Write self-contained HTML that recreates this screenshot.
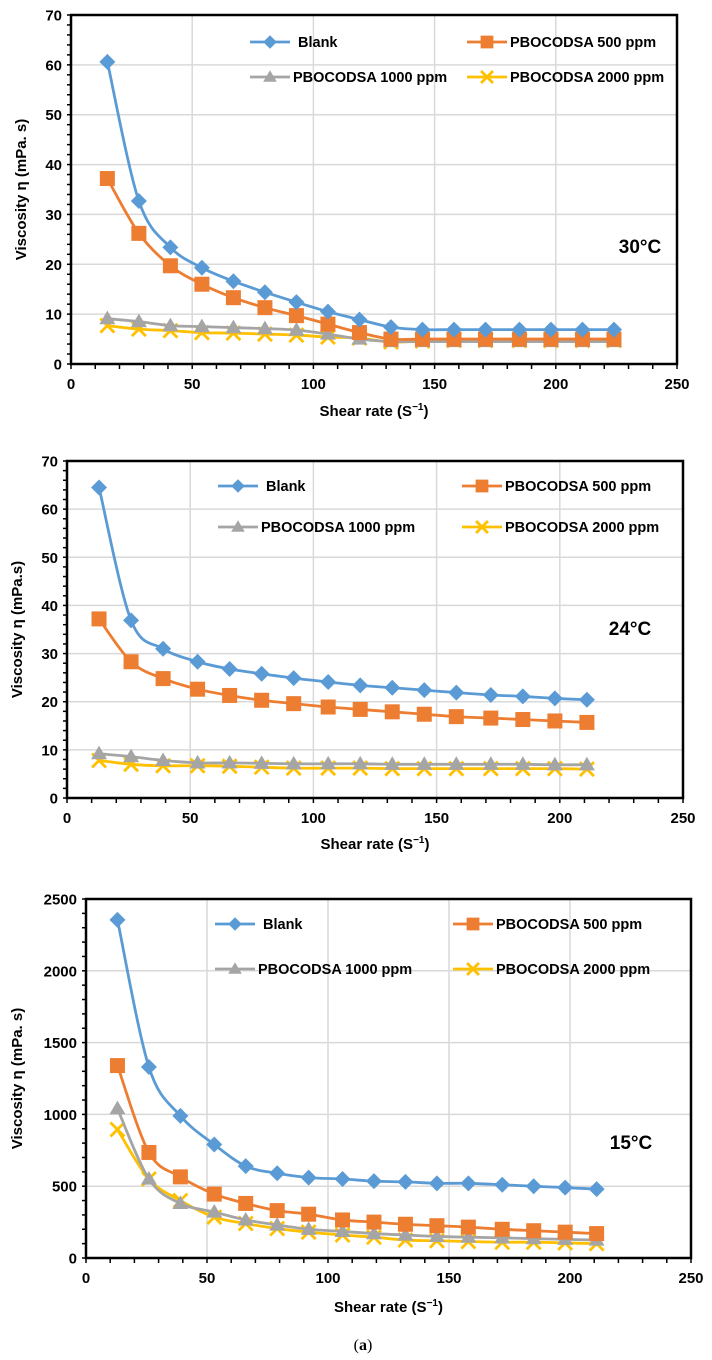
<!DOCTYPE html>
<html><head><meta charset="utf-8"><style>
html,body{margin:0;padding:0;background:#fff;}
svg{display:block;font-family:"Liberation Sans",sans-serif;font-weight:bold;}
</style></head><body>
<svg id="fig" width="712" height="1360" viewBox="0 0 712 1360" xmlns="http://www.w3.org/2000/svg"></svg>
<script>
const seriesNames = ["Blank","PBOCODSA 500 ppm","PBOCODSA 1000 ppm","PBOCODSA 2000 ppm"];
const shear30 = [15,28,41,54,67,80,93,106,119,132,145,158,171,185,198,211,224];
const blank30 = [60.6,32.7,23.4,19.3,16.6,14.4,12.4,10.5,8.9,7.4,6.9,6.9,6.9,6.9,6.9,6.9,6.9];
const p500_30 = [37.2,26.2,19.7,16,13.3,11.3,9.7,8,6.3,5,5,5,5,5,5,5,5];
const p1000_30 = [9.1,8.5,7.7,7.5,7.3,7.1,6.8,6,5,4.5,4.5,4.5,4.5,4.5,4.5,4.5,4.5];
const p2000_30 = [7.7,7,6.7,6.3,6.2,6,5.8,5.4,5.2,4.4,4.6,4.7,4.7,4.7,4.7,4.7,4.7];
const shear24 = [13,26,39,53,66,79,92,106,119,132,145,158,172,185,198,211];
const blank24 = [64.5,36.9,31,28.3,26.8,25.8,24.9,24.1,23.4,22.9,22.4,21.9,21.4,21.1,20.7,20.4];
const p500_24 = [37.2,28.3,24.8,22.6,21.3,20.3,19.6,18.9,18.4,17.9,17.4,16.9,16.6,16.3,16,15.7];
const p1000_24 = [9.2,8.6,7.8,7.3,7.3,7.2,7.1,7.1,7.1,7,7,7,7,7,6.9,6.9];
const p2000_24 = [7.8,7,6.7,6.7,6.6,6.4,6.2,6.2,6.2,6.1,6.1,6.1,6.1,6.1,6.1,6.0];
const shear15 = [13,26,39,53,66,79,92,106,119,132,145,158,172,185,198,211];
const blank15 = [2355,1330,990,790,640,590,560,550,535,530,520,520,510,500,490,480];
const p500_15 = [1340,735,565,445,380,330,305,265,250,235,225,215,200,190,180,170];
const p1000_15 = [1040,550,380,320,265,230,200,185,170,160,150,145,140,135,130,125];
const p2000_15 = [895,550,400,285,240,205,180,160,145,125,120,115,110,110,105,100];
const xTicks = [0,50,100,150,200,250];
const yTicks70 = [0,10,20,30,40,50,60,70];
const yTicks2500 = [0,500,1000,1500,2000,2500];

const NS="http://www.w3.org/2000/svg";
const svg=document.getElementById('fig');
const colors=["#5B9BD5","#ED7D31","#A5A5A5","#FFC000"];
function mk(tag,attrs,parent){const e=document.createElementNS(NS,tag);for(const k in attrs)e.setAttribute(k,attrs[k]);(parent||svg).appendChild(e);return e;}
function smooth(pts){let d="M"+pts[0][0]+","+pts[0][1];for(let i=0;i<pts.length-1;i++){const p0=pts[i-1]||pts[i],p1=pts[i],p2=pts[i+1],p3=pts[i+2]||p2;const t=0.5/3;
d+=" C"+(p1[0]+(p2[0]-p0[0])*t)+","+(p1[1]+(p2[1]-p0[1])*t)+" "+(p2[0]-(p3[0]-p1[0])*t)+","+(p2[1]-(p3[1]-p1[1])*t)+" "+p2[0]+","+p2[1];}return d;}
function marker(g,k,x,y,legend){const c=colors[k];let m;const f=legend?0.85:1;
if(k===0){const s=8*f;m=mk('polygon',{points:`${x},${y-s} ${x+s},${y} ${x},${y+s} ${x-s},${y}`,fill:c},g);}
else if(k===1){const s=7.5*f;m=mk('rect',{x:x-s,y:y-s,width:2*s,height:2*s,fill:c},g);}
else if(k===2){const s=8*f;m=mk('polygon',{points:`${x},${y-s} ${x+s},${y+s*0.7} ${x-s},${y+s*0.7}`,fill:c},g);}
else{const s=7*f;m=mk('path',{d:`M${x-s},${y-s}L${x+s},${y+s}M${x-s},${y+s}L${x+s},${y-s}`,stroke:c,'stroke-width':2.8,fill:'none'},g);}

}
function chart(cfg){
 const g=mk('g',{});
 
 
 const {L,R,T,B,ymax,yTicks,minor,xs,series}=cfg;
 const X=v=>L+(v/250)*(R-L), Y=v=>B-(v/ymax)*(B-T);
 xTicks.forEach(v=>{if(v>0&&v<250){const l=mk('line',{x1:X(v),x2:X(v),y1:T,y2:B,stroke:'#d9d9d9','stroke-width':1.5},g);}});
 yTicks.forEach(v=>{if(v>0&&v<ymax){const l=mk('line',{x1:L,x2:R,y1:Y(v),y2:Y(v),stroke:'#d9d9d9','stroke-width':1.5},g);}});
 for(let v=0;v<=ymax+1e-9;v+=minor){const l=mk('line',{x1:L-4,x2:L,y1:Y(v),y2:Y(v),stroke:'#000','stroke-width':1.5},g);}
 for(let v=0;v<=250;v+=10){const l=mk('line',{x1:X(v),x2:X(v),y1:B,y2:B+5,stroke:'#000','stroke-width':1.5},g);}
 const fr=mk('rect',{x:L,y:T,width:R-L,height:B-T,fill:'none',stroke:'#000','stroke-width':2.5},g);
 
 yTicks.forEach(v=>{const t=mk('text',{x:L-9,y:Y(v)+5.5,'text-anchor':'end','font-size':15},g);t.textContent=v;});
 xTicks.forEach(v=>{const t=mk('text',{x:X(v),y:B+25,'text-anchor':'middle','font-size':15},g);t.textContent=v;});
 for(let k=3;k>=0;k--){const pts=xs.map((x,i)=>[X(x),Y(series[k][i])]);
  const p=mk('path',{d:smooth(pts),fill:'none',stroke:colors[k],'stroke-width':2.8},g);
  
  pts.forEach(q=>marker(g,k,q[0],q[1],false));}
 const lg=[[cfg.lx1,cfg.ly1],[cfg.lx2,cfg.ly1],[cfg.lx1,cfg.ly2],[cfg.lx2,cfg.ly2]];
 lg.forEach((p,k)=>{const e=mk('g',{},g);
  mk('line',{x1:p[0],x2:p[0]+40,y1:p[1],y2:p[1],stroke:colors[k],'stroke-width':2.8},e);
  marker(e,k,p[0]+20,p[1],true);
  const t=mk('text',{x:p[0]+(k===0?48:43),y:p[1]+5,'font-size':14.5},e);t.textContent=seriesNames[k];});
 const tt=mk('text',{x:cfg.tx,y:cfg.ty,'text-anchor':'middle','font-size':19},g);tt.textContent=cfg.temp;
 const xt=mk('text',{x:(L+R)/2,y:cfg.xty,'text-anchor':'middle','font-size':15},g);xt.innerHTML='Shear rate (S<tspan font-size="10" dy="-6">−1</tspan><tspan dy="6">)</tspan>';
 const yt=mk('text',{transform:`translate(${cfg.ytx},${(T+B)/2}) rotate(-90)`,'text-anchor':'middle','font-size':15},g);yt.textContent=cfg.ytitle;
}
chart({name:'chart-30c',L:71,R:677,T:15,B:364,ymax:70,yTicks:yTicks70,minor:2,xs:shear30,series:[blank30,p500_30,p1000_30,p2000_30],lx1:250,lx2:467,ly1:42,ly2:77,tx:640,ty:253,temp:'30°C',xty:416,ytx:26,ytitle:'Viscosity η (mPa. s)'});
chart({name:'chart-24c',L:67,R:683,T:461,B:798,ymax:70,yTicks:yTicks70,minor:2,xs:shear24,series:[blank24,p500_24,p1000_24,p2000_24],lx1:218,lx2:462,ly1:486,ly2:527,tx:630,ty:635,temp:'24°C',xty:849,ytx:22,ytitle:'Viscosity η (mPa.s)'});
chart({name:'chart-15c',L:86,R:691,T:899,B:1258,ymax:2500,yTicks:yTicks2500,minor:100,xs:shear15,series:[blank15,p500_15,p1000_15,p2000_15],lx1:215,lx2:453,ly1:924,ly2:969,tx:631,ty:1149,temp:'15°C',xty:1312,ytx:22,ytitle:'Viscosity η (mPa. s)'});
const cap=mk('text',{x:363,y:1350,'text-anchor':'middle','font-size':16,'font-weight':'normal','font-family':'Liberation Serif,serif'});
cap.innerHTML='(<tspan font-weight="bold">a</tspan>)';


</script>
</body></html>
